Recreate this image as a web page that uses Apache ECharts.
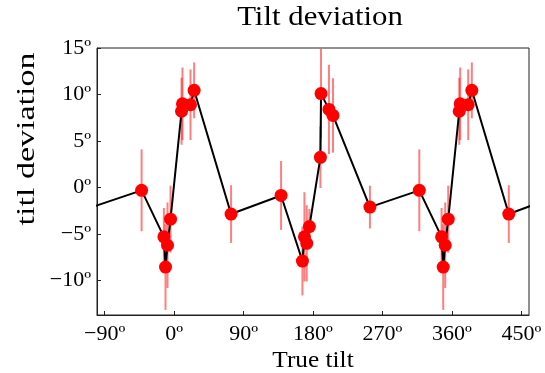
<!DOCTYPE html>
<html>
<head>
<meta charset="utf-8">
<script src="https://cdn.jsdelivr.net/npm/echarts@6/dist/echarts.min.js"></script>
<style>
html,body{margin:0;padding:0;background:#fff;}
#c{width:545px;height:373px;}
</style>
</head>
<body>
<div id="c"></div>
<script>
// True tilt (degrees)
const tilt = [-106.2, -42.2, -13.3, -11.2, -8.6, -4.7, 9.6, 10.8, 21.2, 25.9, 73.8,
  138.6, 166.3, 168.9, 171.9, 175.3, 189.6, 190.4, 200.7, 205.9, 253.8,
  317.8, 346.7, 348.8, 351.4, 355.3, 369.6, 370.8, 381.2, 385.9, 433.8, 498.6];
// Tilt deviation (degrees)
const deviation = [-2.1, -0.3, -5.3, -8.55, -6.2, -3.4, 8.2, 9.0, 8.9, 10.45, -2.85,
  -0.85, -7.9, -5.3, -6.0, -4.2, 3.25, 10.1, 8.4, 7.75, -2.1,
  -0.3, -5.3, -8.55, -6.2, -3.4, 8.2, 9.0, 8.9, 10.45, -2.85, -0.85];
// Error (half-length of error bar, degrees)
const errors = [2.3, 4.4, 3.1, 4.6, 4.6, 3.6, 3.6, 3.9, 3.8, 3.0, 3.1,
  3.7, 3.7, 4.8, 4.1, 1.9, 3.3, 4.8, 4.8, 4.0, 2.3,
  4.4, 3.1, 4.6, 4.6, 3.6, 3.6, 3.9, 3.8, 3.0, 3.1, 3.7];
const xTicks = [-90, 0, 90, 180, 270, 360, 450];
const yTicks = [-10, -5, 0, 5, 10, 15];

const FONT = '"Liberation Serif", "DejaVu Serif", serif';
const fmt = v => (v < 0 ? '\u2212' + Math.abs(v) : String(v)) + 'º';

const pts = tilt.map((t, i) => [t, deviation[i]]);
const bars = tilt.map((t, i) => [t, deviation[i] - errors[i], deviation[i] + errors[i]]);

const chart = echarts.init(document.getElementById('c'), null, {renderer: 'canvas'});
chart.setOption({
  animation: false,
  backgroundColor: '#fff',
  grid: {left: 97, right: 16, top: 48, bottom: 58, show: true, borderColor: '#222', borderWidth: 1, backgroundColor: 'transparent'},
  xAxis: {
    type: 'value', min: -100, max: 460,
    axisLine: {show: true, onZero: false, lineStyle: {color: '#222', width: 1}},
    axisTick: {show: true, inside: true, length: 4, customValues: xTicks, lineStyle: {color: '#222'}},
    axisLabel: {customValues: xTicks, formatter: fmt, fontFamily: FONT, fontSize: 22, color: '#000', margin: 8},
    splitLine: {show: false}
  },
  yAxis: {
    type: 'value', min: -13.7, max: 15,
    axisLine: {show: true, onZero: false, lineStyle: {color: '#222', width: 1}},
    axisTick: {show: true, inside: true, length: 4, customValues: yTicks, lineStyle: {color: '#222'}},
    axisLabel: {customValues: yTicks, formatter: fmt, fontFamily: FONT, fontSize: 22, color: '#000', margin: 6},
    splitLine: {show: false}
  },
  graphic: [
    {type: 'text', x: 320, y: 18, scaleX: 1.1, style: {text: 'Tilt deviation', font: '28px ' + FONT, fill: '#000', textAlign: 'center', textVerticalAlign: 'middle'}},
    {type: 'text', x: 313, y: 361, scaleX: 1.1, style: {text: 'True tilt', font: '23px ' + FONT, fill: '#000', textAlign: 'center', textVerticalAlign: 'middle'}},
    {type: 'text', x: 27, y: 139, rotation: Math.PI / 2, scaleX: 1.36, style: {text: 'titl deviation', font: '25px ' + FONT, fill: '#000', textAlign: 'center', textVerticalAlign: 'middle'}}
  ],
  series: [
    {
      type: 'custom', clip: true, z: 1,
      data: bars,
      renderItem: function (params, api) {
        const p1 = api.coord([api.value(0), api.value(1)]);
        const p2 = api.coord([api.value(0), api.value(2)]);
        return {type: 'line', shape: {x1: p1[0], y1: p1[1], x2: p2[0], y2: p2[1]},
          style: {stroke: 'rgba(255,0,0,0.5)', lineWidth: 2}};
      }
    },
    {
      type: 'line', data: pts, showSymbol: false, clip: true, z: 2,
      lineStyle: {color: '#000', width: 2}
    },
    {
      type: 'scatter', data: pts, clip: true, z: 3,
      symbol: 'circle', symbolSize: 13,
      itemStyle: {color: '#ff0000', opacity: 1}
    }
  ]
});
</script>
</body>
</html>
